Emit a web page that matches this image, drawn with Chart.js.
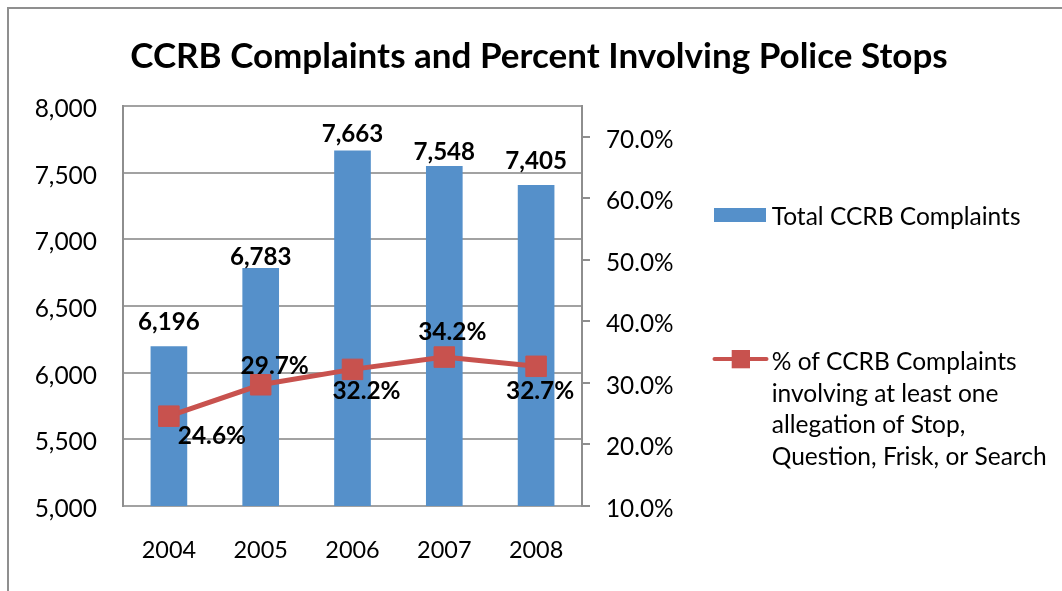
<!DOCTYPE html>
<html><head><meta charset="utf-8">
<script src="https://cdn.jsdelivr.net/npm/chart.js@4/dist/chart.umd.min.js"></script>
<style>html,body{margin:0;padding:0;background:#fff;overflow:hidden}#wrap{width:1062px;height:591px;position:relative}</style>
</head><body><div id="wrap"><canvas id="c" width="1062" height="591"></canvas></div>
<script>
// ---- data ----
const years = ['2004', '2005', '2006', '2007', '2008'];
const complaints = [6196, 6783, 7663, 7548, 7405];
const pctStops = [24.6, 29.7, 32.2, 34.2, 32.7];
const leftTicks = [5000, 5500, 6000, 6500, 7000, 7500, 8000];
const rightTicks = [10, 20, 30, 40, 50, 60, 70];
const titleText = 'CCRB Complaints and Percent Involving Police Stops';
const barSeriesName = 'Total CCRB Complaints';
const lineSeriesLines = ['% of CCRB Complaints', 'involving at least one', 'allegation of Stop,', 'Question, Frisk, or Search'];

// ---- style ----
const BAR_COLOR = '#5590CA';
const LINE_COLOR = '#C8524E';
const GRID_COLOR = '#a2a2a2';
const AXIS_COLOR = '#8e8e8e';
const FONT = 'Lato';
// label placement (pixel offsets, style only)
const barLabelRaise = [25, 12, 18, 15, 25];
const pctLabelOffset = [[43, 19], [14, -20], [14, 21], [8, -26], [4, 24]];

const mctx = document.createElement('canvas').getContext('2d');
function fitSize(text, width, weight, k) {
  mctx.font = weight + ' 100px ' + FONT;
  return (k || 1) * 100 * width / mctx.measureText(text).width;
}
const titleSize = fitSize(titleText, 802, 'bold', 1.02);
const yTickSize = fitSize('8,000', 60, 'normal', 1.04);
const y1TickSize = fitSize('70.0%', 65, 'normal', 1.04);
const xTickSize = fitSize('2004', 52.3, 'normal', 1.04);
const barLblSize = fitSize('6,783', 58.7, 'bold', 1.05);
const pctLblSize = fitSize('24.6%', 65, 'bold', 1.05);
const legendSize = fitSize(barSeriesName, 241.7, 'normal', 1.03);
const CAP = 0.716;

function textCentered(ctx, txt, x, cy, size, weight) {
  ctx.font = weight + ' ' + size + 'px ' + FONT;
  ctx.textAlign = 'center';
  ctx.textBaseline = 'alphabetic';
  ctx.fillText(txt, x, cy + CAP * size / 2);
}

const decor = {
  id: 'decor',
  beforeDraw(chart) {
    const ctx = chart.ctx;
    ctx.save();
    ctx.fillStyle = '#fff';
    ctx.fillRect(0, 0, chart.width, chart.height);
    ctx.fillStyle = '#8f8f8f';
    ctx.fillRect(7, 7, 2, chart.height);
    ctx.fillRect(7, 7, chart.width, 2);
    ctx.fillStyle = '#000';
    textCentered(ctx, titleText, 539, 55, titleSize, 'bold');
    ctx.restore();
  },
  afterDatasetsDraw(chart) {
    const ctx = chart.ctx;
    ctx.save();
    ctx.fillStyle = '#000';
    const bm = chart.getDatasetMeta(0);
    bm.data.forEach((el, i) => {
      textCentered(ctx, complaints[i].toLocaleString('en-US'), el.x, el.y - barLabelRaise[i], barLblSize, 'bold');
    });
    const lm = chart.getDatasetMeta(1);
    lm.data.forEach((el, i) => {
      const o = pctLabelOffset[i];
      textCentered(ctx, pctStops[i].toFixed(1) + '%', el.x + o[0], el.y + o[1], pctLblSize, 'bold');
    });
    ctx.restore();
  },
  afterDraw(chart) {
    const ctx = chart.ctx;
    const ds = chart.data.datasets;
    ctx.save();
    // bar legend
    ctx.fillStyle = ds[0].backgroundColor;
    ctx.fillRect(714, 208, 52, 14);
    ctx.fillStyle = '#000';
    ctx.font = 'normal ' + legendSize + 'px ' + FONT;
    ctx.textAlign = 'left';
    ctx.textBaseline = 'alphabetic';
    ctx.fillText(barSeriesName, 771.7, 225);
    // line legend
    ctx.strokeStyle = ds[1].borderColor;
    ctx.lineWidth = 4;
    ctx.lineCap = 'round';
    ctx.beginPath(); ctx.moveTo(714.5, 359); ctx.lineTo(766.5, 359); ctx.stroke();
    ctx.fillStyle = ds[1].pointBackgroundColor;
    ctx.fillRect(731.7, 350, 18.3, 18.3);
    ctx.fillStyle = '#000';
    lineSeriesLines.forEach((t, i) => ctx.fillText(t, 771.7, 370 + i * 31.7));
    ctx.restore();
  }
};

new Chart(document.getElementById('c'), {
  data: {
    labels: years,
    datasets: [
      {
        type: 'bar', label: barSeriesName, data: complaints, yAxisID: 'y',
        backgroundColor: BAR_COLOR, barThickness: 36, order: 2
      },
      {
        type: 'line', label: lineSeriesLines.join(' '), data: pctStops, yAxisID: 'y1',
        borderColor: LINE_COLOR, borderWidth: 5, tension: 0,
        pointStyle: 'rect', pointRadius: 14.5, pointBackgroundColor: LINE_COLOR,
        pointBorderColor: LINE_COLOR, pointBorderWidth: 1, order: 1
      }
    ]
  },
  options: {
    responsive: false,
    animation: false,
    devicePixelRatio: 1,
    layout: { padding: { top: 106, left: 0, right: 0, bottom: 0 } },
    plugins: { legend: { display: false }, title: { display: false }, tooltip: { enabled: false } },
    scales: {
      x: {
        type: 'category',
        offset: true,
        grid: { display: false, drawTicks: false },
        border: { display: false },
        ticks: { color: '#000', font: { family: FONT, size: xTickSize }, padding: 30, maxRotation: 0 },
        afterFit(s) { s.height = 85; }
      },
      y: {
        position: 'left',
        min: 5000, max: 8000,
        afterBuildTicks(s) { s.ticks = leftTicks.map(v => ({ value: v })); },
        grid: { color: GRID_COLOR, lineWidth: 2, drawTicks: false },
        border: { display: true, color: AXIS_COLOR, width: 2 },
        ticks: {
          color: '#000', font: { family: FONT, size: yTickSize }, padding: 26, labelOffset: 3,
          callback: v => Number(v).toLocaleString('en-US')
        },
        afterFit(s) { s.width = 123; }
      },
      y1: {
        position: 'right',
        min: 10, max: 75,
        afterBuildTicks(s) { s.ticks = rightTicks.map(v => ({ value: v })); },
        grid: { drawOnChartArea: false, color: AXIS_COLOR, lineWidth: 2, drawTicks: true, tickLength: 8 },
        border: { display: true, color: AXIS_COLOR, width: 2 },
        ticks: {
          color: '#000', font: { family: FONT, size: y1TickSize }, padding: 16, labelOffset: 3,
          callback: v => Number(v).toFixed(1) + '%'
        },
        afterFit(s) { s.width = 480; }
      }
    }
  },
  plugins: [decor]
});
</script>
</body></html>
